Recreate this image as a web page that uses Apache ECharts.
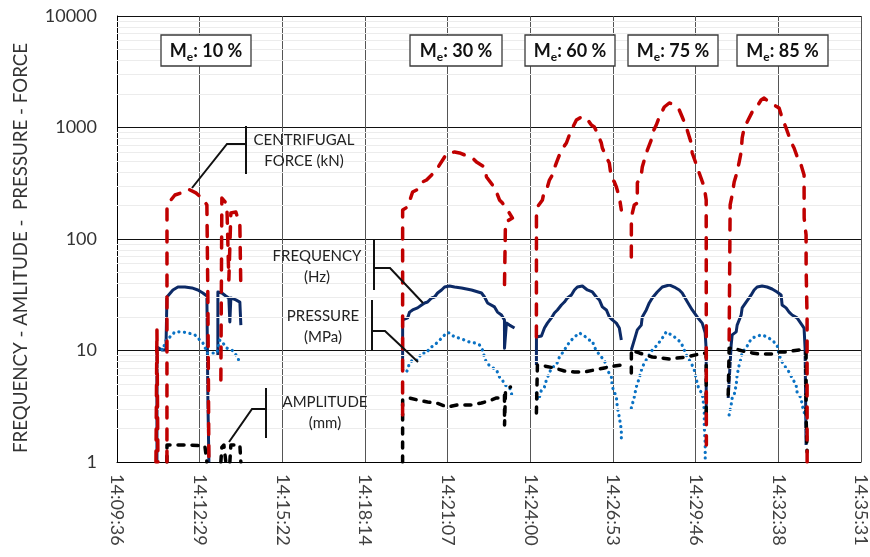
<!DOCTYPE html>
<html><head><meta charset="utf-8">
<script src="https://cdn.jsdelivr.net/npm/echarts@6/dist/echarts.min.js"></script>
<style>html,body{margin:0;padding:0;background:#fff}#c{width:870px;height:557px}</style>
</head><body><div id="c"></div>
<script>
// x values: elapsed seconds after 14:09:36
const X_TICK_LABELS = ['14:09:36','14:12:29','14:15:22','14:18:14','14:21:07','14:24:00','14:26:53','14:29:46','14:32:38','14:35:31'];
const X_STEP = 172.8;
const Y_TICK_LABELS = ['1','10','100','1000','10000'];
const MINOR_GRID = [2,3,4,5,6,7,8,9,20,30,40,50,60,70,80,90,200,300,400,500,600,700,800,900,2000,3000,4000,5000,6000,7000,8000,9000];
const STAGE_LABELS = ['10 %','30 %','60 %','75 %','85 %'];

const force = [
[81.4,1],[83.5,15.3],[85.6,1],[85.7,null],
[104.4,1],[104.5,202],[121.1,248],[133.6,259],[148.2,281],[164.9,259],[179.5,229],[187.9,202],[190.0,28.4],[192.1,1],[192.2,null],
[217.1,5.44],[219.2,233],[229.6,206],[233.8,42.9],[238.0,171],[248.4,175],[256.8,134],[258.9,34.9],[259,null],
[597.0,2.64],[597.1,182],[607.5,194],[617.9,264],[626.3,275],[638.8,325],[647.1,338],[663.8,399],[670.1,433],[684.7,544],[691.0,591],[705.6,603],[716.0,591],[743.2,533],[751.5,490],[768.2,442],[772.4,360],[784.9,305],[789.1,293],[799.5,224],[805.8,210],[816.2,182],[826.7,154],[812.0,142],[810.0,38.7],[810,null],
[876.7,13.2],[876.8,182],[878.8,194],[889.3,224],[893.5,275],[899.7,293],[903.9,338],[910.2,375],[914.3,433],[920.6,511],[928.9,628],[939.4,726],[945.6,857],[951.9,990],[960.3,1167],[970.7,1242],[981.1,1217],[991.6,1053],[997.8,1010],[1004.1,893],[1012.4,726],[1014.5,655],[1022.9,544],[1029.1,480],[1033.3,352],[1039.6,325],[1043.8,293],[1050.0,238],[1054.2,182],[1054.3,null],
[1075.1,69.0],[1075.2,157],[1081.3,202],[1087.6,210],[1087.7,318],[1095.9,375],[1098.0,442],[1106.4,591],[1116.8,773],[1118.9,893],[1127.3,1053],[1133.5,1242],[1144.0,1527],[1154.4,1659],[1160.7,1624],[1175.3,1435],[1181.5,1242],[1189.9,1010],[1200.3,726],[1202.4,591],[1212.8,442],[1217.0,391],[1227.5,293],[1231.6,224],[1231.7,74.9],[1231.8,19.6],[1231.9,2.24],[1232.0,1.42],[1232.1,null],
[1279.6,12.4],[1281.7,202],[1285.9,248],[1290.1,325],[1296.3,399],[1300.5,490],[1304.7,603],[1306.8,805],[1311.0,990],[1317.2,1120],[1327.7,1377],[1336.0,1496],[1346.4,1765],[1352.7,1839],[1363.1,1693],[1373.6,1591],[1384.0,1496],[1390.3,1217],[1398.6,990],[1409.1,741],[1415.3,655],[1425.8,490],[1429.9,461],[1436.2,375],[1436.3,248],[1436.4,154],[1440.4,108.6],[1440.5,55.0],[1442.5,19.6],[1442.6,1]
];

const frequency = [
[83.5,1],[83.6,10.75],[93.9,10.1],[102.3,10.1],[104.4,30.2],[116.9,34.9],[127.3,37.1],[142.0,37.1],[156.6,36.4],[169.1,34.9],[179.5,32.8],[187.9,30.8],[190.0,3.6],[192.1,1],[192.2,null],
[210.8,9.11],[210.9,33.5],[219.2,32.8],[227.5,30.8],[233.8,29.6],[235.9,18.0],[238.0,29.6],[248.4,28.4],[256.8,27.2],[258.9,16.9],[259,null],
[597.0,6.69],[597.1,18.8],[607.5,19.6],[611.6,22.1],[617.9,23.1],[628.3,24.1],[636.7,25.6],[643.0,26.7],[649.2,27.2],[657.6,29.6],[663.8,30.2],[670.1,32.8],[678.4,34.9],[684.7,37.1],[695.1,37.9],[705.6,37.1],[720.2,36.4],[741.1,34.9],[761.9,32.8],[768.2,30.2],[774.5,26.7],[789.1,24.6],[795.3,22.1],[803.7,20.8],[809.9,18.8],[810.0,10.5],[814.1,17.6],[820.4,16.9],[830.9,15.9],[831,null],
[876.7,7.41],[876.8,13.2],[887.2,13.5],[893.5,15.9],[899.7,17.6],[908.1,19.6],[914.3,21.7],[920.6,23.1],[928.9,25.6],[935.2,27.2],[941.5,29.6],[949.8,31.5],[956.1,34.9],[962.3,37.1],[972.8,37.9],[983.2,34.9],[993.7,33.5],[1002.0,30.2],[1008.3,28.4],[1014.5,24.6],[1022.9,23.1],[1029.1,20.0],[1035.4,18.8],[1043.8,17.6],[1050.0,15.9],[1054.2,12.4],[1054.3,null],
[1075.1,10.1],[1081.3,12.4],[1087.6,15.3],[1095.9,16.9],[1098.0,20.0],[1106.4,23.1],[1112.6,26.7],[1118.9,29.6],[1129.3,33.5],[1139.8,37.1],[1154.4,38.7],[1164.8,37.1],[1175.3,34.9],[1181.5,32.8],[1189.9,28.4],[1196.1,25.6],[1202.4,23.1],[1212.8,20.0],[1223.3,17.6],[1229.5,14.4],[1231.6,10.1],[1231.7,2.38],[1231.8,null],
[1277.6,3.75],[1283.8,11.2],[1285.9,13.8],[1294.3,14.7],[1296.3,16.9],[1304.7,20.8],[1306.8,24.1],[1315.1,27.2],[1321.4,29.6],[1325.6,31.5],[1331.8,34.9],[1338.1,37.1],[1348.5,37.9],[1359.0,37.1],[1369.4,35.6],[1379.8,33.5],[1388.2,31.5],[1390.3,25.6],[1398.6,24.1],[1404.9,22.1],[1411.2,20.8],[1421.6,19.6],[1432.0,16.9],[1436.2,15.9],[1438.3,10.5],[1440.4,1.42]
];

const pressure = [
[83.5,10.75],[89.8,10.5],[96.0,10.1],[100.2,11.7],[104.4,12.9],[110.6,13.2],[121.1,14.7],[135.7,14.7],[148.2,14.4],[162.8,13.8],[173.3,12.4],[179.5,11.7],[183.7,10.75],[187.9,9.5],[194.1,9.5],[208.8,9.5],[215.0,12.4],[221.3,11.7],[229.6,10.5],[240.1,10.1],[246.3,9.5],[252.6,8.57],[256.8,7.73],[257,null],
[597.0,6.69],[605.4,6.41],[611.6,7.73],[617.9,8.22],[628.3,8.22],[636.7,9.5],[647.1,9.5],[653.4,10.5],[663.8,11.2],[670.1,11.9],[678.4,12.9],[688.9,14.4],[695.1,14.4],[705.6,13.2],[716.0,12.9],[726.5,12.4],[736.9,11.9],[747.3,11.7],[757.8,11.2],[764.0,10.1],[768.2,8.74],[772.4,7.73],[782.8,7.11],[793.3,6.69],[799.5,5.78],[805.8,5.44],[810.0,4.90],[820.4,4.71],[826.7,3.83],[827,null],
[876.7,4.16],[878.8,3.60],[883.0,3.83],[887.2,4.42],[893.5,4.71],[897.6,5.44],[903.9,6.28],[908.1,6.97],[918.5,7.41],[924.8,8.74],[931.0,9.5],[935.2,10.1],[941.5,11.2],[949.8,12.4],[956.1,13.2],[966.5,14.4],[977.0,13.5],[987.4,12.4],[993.7,12.2],[997.8,10.75],[1004.1,9.70],[1012.4,8.74],[1018.7,8.22],[1025.0,6.69],[1033.3,5.78],[1035.4,4.71],[1043.8,3.83],[1045.8,3.11],[1050.0,2.53],[1054.2,1.94],[1054.3,1.48],[1054.4,null],
[1075.1,3.05],[1081.3,3.83],[1085.5,4.71],[1091.8,5.67],[1098.0,7.11],[1108.5,8.57],[1118.9,10.1],[1129.3,11.2],[1139.8,12.9],[1148.1,14.7],[1158.6,13.8],[1169.0,12.9],[1179.4,11.7],[1185.7,10.1],[1192.0,8.74],[1200.3,7.73],[1206.6,6.69],[1212.8,5.11],[1217.0,4.42],[1223.3,4.16],[1227.5,2.93],[1227.6,2.06],[1229.5,1.48],[1229.6,1.04],[1229.7,null],
[1279.6,2.64],[1283.8,3.25],[1285.9,3.75],[1290.1,3.99],[1294.3,4.90],[1296.3,6.03],[1300.5,7.41],[1304.7,8.57],[1306.8,9.70],[1315.1,10.5],[1321.4,11.9],[1327.7,12.9],[1338.1,13.5],[1348.5,13.8],[1359.0,13.2],[1369.4,12.4],[1379.8,11.2],[1384.0,9.11],[1390.3,7.88],[1398.6,6.97],[1404.9,6.41],[1411.2,5.67],[1419.5,4.90],[1421.6,4.24],[1430.0,3.75],[1432.0,3.25],[1436.2,2.81],[1440.4,2.48],[1440.5,1.86],[1442.5,1.42]
];

const amplitude = [
[104.4,1],[104.5,1.42],[121.1,1.42],[152.4,1.42],[183.7,1.39],[187.9,1],[188,null],
[217.1,1],[219.2,1.36],[223.4,1.42],[227.5,1],[227.6,null],
[235.9,1],[238.0,1.42],[256.8,1.42],[258.9,1],[259,null],
[597.0,1],[597.1,3.60],[601.2,3.60],[611.6,3.75],[628.3,3.60],[649.2,3.45],[668.0,3.38],[691.0,3.11],[711.8,3.25],[741.1,3.25],[761.9,3.38],[782.8,3.60],[793.3,3.75],[803.7,3.75],[810.0,3.99],[810.1,2.15],[812.0,4.24],[816.2,4.61],[822.5,4.71],[823,null],
[876.7,2.75],[878.8,7.41],[893.5,7.26],[914.3,6.97],[935.2,6.55],[956.1,6.41],[977.0,6.41],[997.8,6.69],[1018.7,6.97],[1039.6,7.26],[1054.2,7.41],[1055,null],
[1075.1,6.28],[1075.2,10.1],[1077.2,9.70],[1091.8,9.5],[1118.9,8.74],[1154.4,8.39],[1189.9,8.74],[1217.0,9.30],[1231.6,9.5],[1231.7,2.38],[1232,null],
[1277.6,3.99],[1279.6,10.5],[1290.1,10.5],[1300.5,10.1],[1315.1,9.70],[1327.7,9.5],[1342.3,9.30],[1356.9,9.30],[1369.4,9.30],[1384.0,9.70],[1398.6,9.70],[1411.2,9.9],[1425.8,10.1],[1436.2,10.1],[1440.4,9.70],[1440.5,2.48],[1442.5,1.23]
];

const FONT = 'Lato, "Open Sans", sans-serif';
const chart = echarts.init(document.getElementById('c'), null, {renderer: 'canvas'});

const stageBoxes = [
  {x: 161, w: 90}, {x: 410, w: 92}, {x: 525, w: 90}, {x: 628, w: 90}, {x: 737, w: 91}
];
const graphics = [];
stageBoxes.forEach((b, i) => {
  graphics.push({type: 'rect', z: 100, shape: {x: b.x, y: 35, width: b.w, height: 31},
    style: {fill: '#fff', stroke: '#3a3a3a', lineWidth: 1.3}});
  graphics.push({type: 'text', z: 101, x: b.x + b.w / 2, y: 51,
    style: {text: '{m|M}{s|e}{m|: ' + STAGE_LABELS[i] + '}', align: 'center', verticalAlign: 'middle',
      rich: {m: {fontSize: 18, fontWeight: 'bold', fontFamily: FONT, fill: '#111', lineHeight: 24},
             s: {fontSize: 12, fontWeight: 'bold', fontFamily: FONT, fill: '#111', lineHeight: 12, verticalAlign: 'bottom'}}}});
});
function label(txt, x, y) {
  graphics.push({type: 'text', z: 101, x: x, y: y,
    style: {text: txt, align: 'center', verticalAlign: 'middle', fontSize: 15, fontFamily: FONT, fill: '#222', lineHeight: 21}});
}
function line(pts) {
  graphics.push({type: 'polyline', z: 101, shape: {points: pts}, style: {stroke: '#111', lineWidth: 2, fill: null}});
}
label('CENTRIFUGAL\nFORCE (kN)', 304, 151);
line([[246,126],[246,174]]); line([[246,144],[227,144],[192,188]]);
label('FREQUENCY\n(Hz)', 317, 267);
line([[374,240],[374,290]]); line([[374,268],[390,268],[423,303]]);
label('PRESSURE\n(MPa)', 323, 327);
line([[372,300],[372,351]]); line([[372,331],[385,331],[418,362]]);
label('AMPLITUDE\n(mm)', 325, 413);
line([[266,388],[266,438]]); line([[266,409],[252,409],[229,442]]);

const option = {
  animation: false,
  backgroundColor: '#fff',
  textStyle: {fontFamily: FONT},
  grid: {left: 117, right: 8, top: 16, bottom: 95, containLabel: false},
  xAxis: {
    type: 'value', min: 0, max: X_STEP * 9, interval: X_STEP,
    axisLine: {show: true, lineStyle: {color: '#000', width: 1}},
    axisTick: {show: false},
    splitLine: {show: true, lineStyle: {color: '#555', width: 1}},
    axisLabel: {rotate: -90, margin: 12, fontSize: 18, color: '#404040', fontFamily: FONT,
      showMinLabel: true, showMaxLabel: true,
      formatter: v => X_TICK_LABELS[Math.round(v / X_STEP)] || ''}
  },
  yAxis: {
    type: 'log', logBase: 10, min: 1, max: 10000,
    name: 'FREQUENCY - AMLITUDE -  PRESSURE - FORCE', nameLocation: 'middle', nameGap: 87,
    nameTextStyle: {fontSize: 18.7, color: '#333', fontFamily: FONT, padding: [0, 18, 0, 0]},
    axisLine: {show: true, lineStyle: {color: '#000', width: 1}},
    axisTick: {show: false},
    splitLine: {show: true, lineStyle: {color: '#111', width: 1}},
    axisLabel: {fontSize: 18, color: '#333', margin: 20, fontFamily: FONT,
      formatter: v => Y_TICK_LABELS[Math.round(Math.log10(v))] || ''}
  },
  graphic: graphics,
  series: [
    {name: 'minor', type: 'line', data: [], z: 1, silent: true,
     markLine: {silent: true, symbol: 'none', label: {show: false}, animation: false,
       lineStyle: {color: '#ececec', width: 1, type: 'solid'},
       data: MINOR_GRID.map(v => ({yAxis: v}))}},
    {name: 'FREQUENCY (Hz)', type: 'line', data: frequency, symbol: 'none', z: 3,
     lineStyle: {color: '#0c2a66', width: 3, join: 'round'}},
    {name: 'PRESSURE (MPa)', type: 'line', data: pressure, symbol: 'none', z: 4,
     lineStyle: {color: '#0a72c4', width: 3.2, type: [0.1, 5.5], cap: 'round', join: 'round'}},
    {name: 'AMPLITUDE (mm)', type: 'line', data: amplitude, symbol: 'none', z: 5,
     lineStyle: {color: '#000', width: 3.5, type: [6, 8], cap: 'round', join: 'round'}},
    {name: 'CENTRIFUGAL FORCE (kN)', type: 'line', data: force, symbol: 'none', z: 6,
     lineStyle: {color: '#c00000', width: 3.5, type: [11, 11], cap: 'round', join: 'round'}}
  ]
};
chart.setOption(option);
</script></body></html>
